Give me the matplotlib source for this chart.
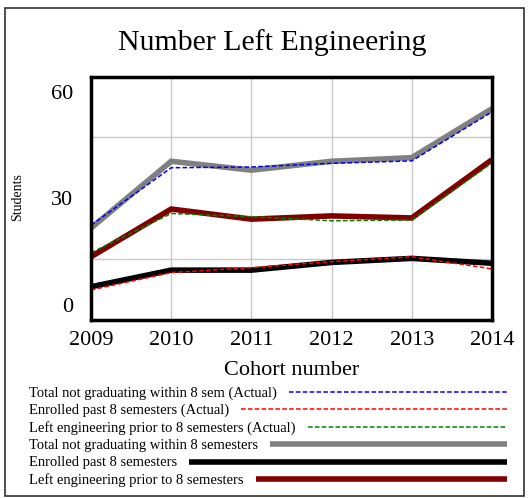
import matplotlib
matplotlib.use("Agg")
import matplotlib.pyplot as plt
from matplotlib.lines import Line2D
from matplotlib.patches import Rectangle

plt.rcParams["font.family"] = ["Liberation Serif", "DejaVu Serif"]

years = [2009, 2010, 2011, 2012, 2013, 2014]

# model runs (thick) and actual values (dashed)
total_sim = [22.6, 39.1, 36.9, 39.1, 40.0, 52.1]
enrolled_sim = [8.1, 12.2, 12.2, 14.1, 15.1, 13.9]
left_sim = [15.5, 27.3, 24.8, 25.6, 25.1, 39.5]
total_act = [23.3, 37.5, 37.7, 38.6, 39.2, 51.3]
enrolled_act = [7.3, 11.6, 12.8, 14.3, 15.5, 12.5]
left_act = [16.5, 26.2, 25.4, 24.4, 24.6, 38.7]

ytick_labels = ["0", "30", "60"]
legend_labels = [
    "Total not graduating within 8 sem (Actual)",
    "Enrolled past 8 semesters (Actual)",
    "Left engineering prior to 8 semesters (Actual)",
    "Total not graduating within 8 semesters",
    "Enrolled past 8 semesters",
    "Left engineering prior to 8 semesters",
]

W, H = 529, 498
fig = plt.figure(figsize=(W / 100, H / 100), dpi=100)
ax = fig.add_axes([91 / W, 1 - 319.5 / H, (492 - 91) / W, (319.5 - 76.7) / H])

thick = dict(lw=4, solid_capstyle="butt", solid_joinstyle="miter")
ax.plot(years, total_sim, color="#808080", **thick)
ax.plot(years, enrolled_sim, color="black", **thick)
ax.plot(years, left_sim, color="#800000", **thick)
dash = dict(lw=1.1, ls=(0, (3, 1.5)))
ax.plot(years, total_act, color="blue", **dash)
ax.plot(years, enrolled_act, color="red", **dash)
ax.plot(years, left_act, color="green", **dash)

ax.set_xlim(2009, 2014)
ax.set_ylim(0, 60)
ax.set_xticks(years)
ax.set_xticklabels([str(y) for y in years], fontsize=16)
# end labels sit inside the range, like the source tool draws them
ax.set_yticks([3.6, 30, 56.2])
ax.set_yticklabels(ytick_labels, fontsize=16)
ax.set_yticks([0, 15, 30, 45, 60], minor=True)
ax.tick_params(which="both", length=0)
ax.tick_params(axis="y", pad=13)
ax.tick_params(axis="x", pad=8)
ax.grid(False)
ax.grid(True, which="minor", axis="y", color="#c8c8c8", lw=1)
ax.grid(True, which="major", axis="x", color="#c8c8c8", lw=1)
ax.set_axisbelow(True)
for s in ax.spines.values():
    s.set_linewidth(2.5)

ax.set_xlabel("Cohort number", fontsize=16, labelpad=8)
fig.text(18 / W, 1 - 197 / H, "Students", rotation=90, fontsize=10,
         ha="center", va="center")
fig.text(272 / W, 1 - 43 / H, "Number Left Engineering",
         fontsize=21.5, ha="center", va="center")

# legend drawn by hand: text on the left, line running to the right edge
styles = [
    dict(color="blue", lw=1.1, ls=(0, (3, 1.5))),
    dict(color="red", lw=1.1, ls=(0, (3, 1.5))),
    dict(color="green", lw=1.1, ls=(0, (3, 1.5))),
    dict(color="#808080", lw=4, solid_capstyle="butt"),
    dict(color="black", lw=4, solid_capstyle="butt"),
    dict(color="#800000", lw=4, solid_capstyle="butt"),
]
fig.canvas.draw()
renderer = fig.canvas.get_renderer()
y0 = 393
for i, (lab, st) in enumerate(zip(legend_labels, styles)):
    yy = y0 + i * 17.4
    t = fig.text(29 / W, 1 - yy / H, lab, fontsize=10.5, ha="left", va="center")
    bb = t.get_window_extent(renderer)
    x_start = bb.x1 + 12
    fig.add_artist(Line2D([x_start / W, 507 / W], [1 - (yy - 1) / H, 1 - (yy - 1) / H],
                          transform=fig.transFigure, **st))

fig.add_artist(Rectangle((5 / W, 1 - 496 / H), 519 / W, 488 / H, fill=False,
                         edgecolor="#303030", lw=1.2, transform=fig.transFigure))

fig.savefig("out.png", dpi=100)
